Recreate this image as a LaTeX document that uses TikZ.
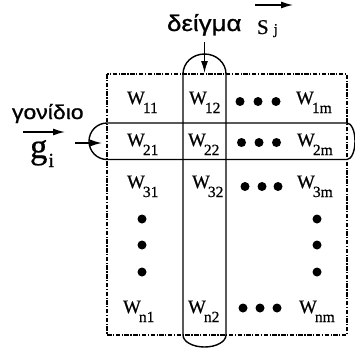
\documentclass[tikz,border=0pt]{standalone}
\usepackage{fontspec}
\setmainfont{Liberation Serif}
\newfontfamily\gkfont[FakeStretch=1.15,FakeBold=0.9]{Liberation Sans}
\newfontfamily\wfont[FakeBold=0.6]{Liberation Serif}
\usetikzlibrary{arrows.meta}
\newcommand{\Wc}[1]{{\wfont\fontsize{19}{19}\selectfont W}\kern-2pt\raisebox{-9pt}{\wfont\fontsize{15.5}{15.5}\selectfont #1}}
\begin{document}
\begin{tikzpicture}[x=1pt,y=-1pt,
  frame/.style={line width=1.4pt, dash pattern=on 4.5pt off 1.5pt on 1.2pt off 1.5pt},
  oval/.style={line width=1.4pt},
  cell/.style={anchor=base west, inner sep=0pt, outer sep=0pt},
  lbl/.style={anchor=base west, inner sep=0pt, outer sep=0pt},
  conn/.style={line width=1.4pt, -{Latex[length=12pt,width=7pt]}},
  vec/.style={line width=1.4pt, -{Latex[length=12pt,width=7pt]}},
  bigdot/.style={fill=black}]
\useasboundingbox (0,0) rectangle (355,348);
\clip (0,0) rectangle (355,348);

% frame
\draw[frame] (107,74) rectangle (347,335);

% column oval
\draw[oval] (183,335) -- (183,74)
  arc[start angle=180,end angle=0,x radius=21.5pt,y radius=20pt]
  -- (226,335)
  arc[start angle=0,end angle=-180,x radius=21.5pt,y radius=12pt] -- cycle;

% row oval
\draw[oval] (107,123) -- (347,123)
  arc[start angle=90,end angle=-90,x radius=8pt,y radius=18.25pt]
  -- (107,159.5)
  arc[start angle=270,end angle=90,x radius=18pt,y radius=18.25pt] -- cycle;

% cells
\node[cell] (w11) at (127,104) {\Wc{11}};
\node[cell] (w12) at (189,104) {\Wc{12}};
\node[cell] (w1m) at (296,104) {\Wc{1m}};
\node[cell] (w21) at (127,146) {\Wc{21}};
\node[cell] (w22) at (188,146) {\Wc{22}};
\node[cell] (w2m) at (297,146) {\Wc{2m}};
\node[cell] (w31) at (127,188) {\Wc{31}};
\node[cell] (w32) at (192,188) {\Wc{32}};
\node[cell] (w3m) at (297,188) {\Wc{3m}};
\node[cell] (wn1) at (123,313) {\Wc{n1}};
\node[cell] (wn2) at (188,313) {\Wc{n2}};
\node[cell] (wnm) at (299,313) {\Wc{nm}};

% dots
\foreach \x in {240,258,276} \fill[bigdot] (\x,101.5) circle (4.5pt);
\foreach \x in {241.5,259,276.5} \fill[bigdot] (\x,142.5) circle (4.5pt);
\foreach \x in {245,262,278} \fill[bigdot] (\x,186.5) circle (4.5pt);
\foreach \x in {243,260,277} \fill[bigdot] (\x,308) circle (4.5pt);
\foreach \y in {219,245,272} {
  \fill[bigdot] (142,\y) circle (4.5pt);
  \fill[bigdot] (317,\y) circle (4.5pt);
}

% labels
\node[lbl] (deigma) at (167,31) {\gkfont\fontsize{22.5}{22.5}\selectfont δείγμα};
\node[lbl] (svec) at (257,34) {\wfont\fontsize{21}{21}\selectfont S\hspace{5pt}{\fontsize{15}{15}\selectfont j}};
\node[lbl] (gonidio) at (12,119) {\gkfont\fontsize{20}{20}\selectfont γονίδιο};
\node[lbl] (gvec) at (30,158) {\wfont\fontsize{35}{35}\selectfont g\kern1pt\raisebox{-9pt}{\fontsize{20}{20}\selectfont i}};

% vector arrows
\coordinate (sa0) at (255,5);
\coordinate (sa1) at (293,5);
\draw[vec] (sa0) -- (sa1);
\coordinate (ga0) at (23,132);
\coordinate (ga1) at (65,132);
\draw[vec] (ga0) -- (ga1);

% pointer arrows
\coordinate (da0) at (204.5,42);
\coordinate (da1) at (204.5,73);
\draw[conn] (da0) -- (da1);
\coordinate (ra0) at (75,143);
\coordinate (ra1) at (102,143);
\draw[conn] (ra0) -- (ra1);
\end{tikzpicture}
\end{document}
